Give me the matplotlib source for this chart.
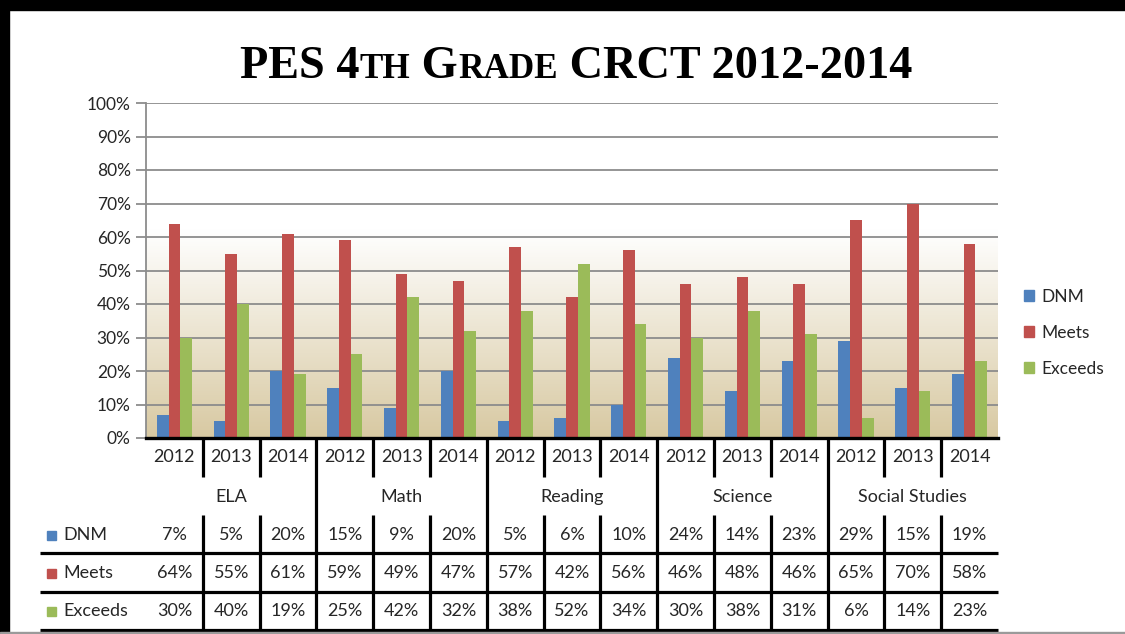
import numpy as np
import matplotlib.pyplot as plt
from matplotlib.patches import Rectangle, Patch
from matplotlib.colors import LinearSegmentedColormap

subjects = ['ELA', 'Math', 'Reading', 'Science', 'Social Studies']
years = ['2012', '2013', '2014']
series = ['DNM', 'Meets', 'Exceeds']
dnm = [7, 5, 20, 15, 9, 20, 5, 6, 10, 24, 14, 23, 29, 15, 19]
meets = [64, 55, 61, 59, 49, 47, 57, 42, 56, 46, 48, 46, 65, 70, 58]
exceeds = [30, 40, 19, 25, 42, 32, 38, 52, 34, 30, 38, 31, 6, 14, 23]
colors = ['#4F81BD', '#C0504D', '#9BBB59']

plt.rcParams['font.family'] = ['Lato', 'DejaVu Sans']
txt = '#262626'

W, H = 1125, 634
fig = plt.figure(figsize=(W / 100, H / 100), dpi=100)


def fx(px):
    return px / W


def fy(py):
    return 1 - py / H


# plot area
L, R, T, B = 146, 998, 103, 438
ax = fig.add_axes([fx(L), fy(B), fx(R - L), (B - T) / H])
n = len(dnm)
x = np.arange(n)
bw = 0.206

cmap = LinearSegmentedColormap.from_list('bg', [(0, '#d8c9a2'), (0.62, '#ffffff'), (1, '#ffffff')])
grad = np.linspace(1, 0, 256).reshape(-1, 1)
ax.imshow(grad, extent=(-0.5, n - 0.5, 0, 100), aspect='auto', cmap=cmap, zorder=0)

for k, vals in enumerate([dnm, meets, exceeds]):
    ax.bar(x + (k - 1) * bw, vals, bw, color=colors[k], label=series[k], zorder=2)

ax.set_xlim(-0.5, n - 0.5)
ax.set_ylim(0, 100)
ax.set_yticks(range(0, 101, 10))
ax.set_yticklabels([f'{v}%' for v in range(0, 101, 10)], fontsize=12.5, color=txt)
ax.set_xticks([])
ax.yaxis.grid(True, color='#8c8c8c', lw=1.3)
ax.set_axisbelow(True)
ax.tick_params(axis='y', length=7, width=1.3, color='#8c8c8c', pad=4)
for s in ['top', 'right']:
    ax.spines[s].set_visible(False)
ax.spines['left'].set_color('#8c8c8c')
ax.spines['left'].set_linewidth(1.3)
ax.spines['bottom'].set_color('black')
ax.spines['bottom'].set_linewidth(2.4)

# legend
fig.legend(handles=[Patch(color=c) for c in colors], labels=series,
           loc='center left', bbox_to_anchor=(fx(1008), fy(333)), frameon=False,
           fontsize=12.5, handlelength=0.6, handleheight=0.6, handletextpad=0.4,
           labelspacing=1.15, labelcolor=txt)

# data table under the chart
tax = fig.add_axes([fx(L), fy(632), fx(R - L), (632 - B) / H])
tax.set_xlim(-0.5, n - 0.5)
tax.set_ylim(632, B)
tax.axis('off')
cw = (R - L) / n


def xd(px):
    return -0.5 + (px - L) / cw


lk = dict(color='black', lw=2.3, clip_on=False, solid_capstyle='butt')
for i in range(n):
    tax.text(i, 457, years[i % 3], ha='center', va='center', fontsize=13, color=txt)
for g, s in enumerate(subjects):
    tax.text(3 * g + 1, 497, s, ha='center', va='center', fontsize=13, color=txt)
for i in range(n - 1):
    b = i + 0.5
    if (i + 1) % 3 == 0:
        tax.plot([b, b], [B, 630], **lk)
    else:
        tax.plot([b, b], [B, 477], **lk)
        tax.plot([b, b], [515, 630], **lk)
for yl in [553, 592, 630]:
    tax.plot([xd(40), n - 0.5], [yl, yl], **lk)

row_y = [535, 573, 611]
for k, vals in enumerate([dnm, meets, exceeds]):
    yc = row_y[k]
    tax.add_patch(Rectangle((xd(47), yc - 4.5), 9 / cw, 9, color=colors[k], clip_on=False))
    tax.text(xd(63), yc, series[k], ha='left', va='center', fontsize=13, color=txt)
    for i, v in enumerate(vals):
        tax.text(i, yc, f'{v}%', ha='center', va='center', fontsize=13, color=txt)

# frame
fig.patches.append(Rectangle((0, fy(10)), 1, fy(0) - fy(10), color='black', transform=fig.transFigure))
fig.patches.append(Rectangle((0, 0), fx(9), 1, color='black', transform=fig.transFigure))
fig.patches.append(Rectangle((0, fy(633)), 1, 1 / H, color='#9a9a9a', transform=fig.transFigure))

# title with small caps, scaled to span ~672 px
parts = [('PES 4', 1.0), ('TH', 0.76), (' G', 1.0), ('RADE', 0.76), (' CRCT 2012-2014', 1.0)]
renderer = fig.canvas.get_renderer()
texts = []
for s, rel in parts:
    t = fig.text(0, fy(78), s, fontsize=36 * rel, family='Liberation Serif', fontweight='bold',
                 va='baseline', ha='left', color='black')
    texts.append(t)
total = sum(t.get_window_extent(renderer).width for t in texts)
scale = 672 / total
for t, (s, rel) in zip(texts, parts):
    t.set_fontsize(36 * rel * scale)
widths = [t.get_window_extent(renderer).width for t in texts]
x0 = 576 - sum(widths) / 2
for t, w in zip(texts, widths):
    t.set_x(fx(x0))
    x0 += w

fig.savefig('out.png', dpi=100, facecolor='white')
